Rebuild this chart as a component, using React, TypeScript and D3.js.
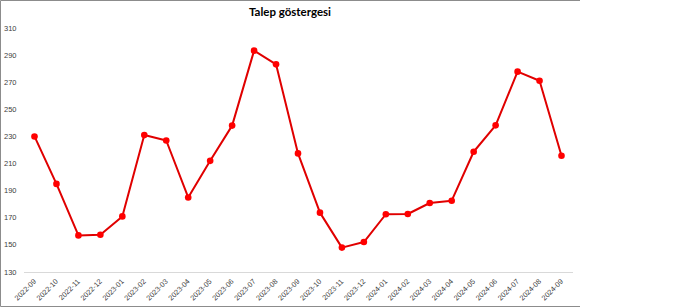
import React from "react";
import * as d3 from "d3";

const categories = [
  "2022-09","2022-10","2022-11","2022-12","2023-01","2023-02","2023-03","2023-04","2023-05","2023-06","2023-07","2023-08","2023-09",
  "2023-10","2023-11","2023-12","2024-01","2024-02","2024-03","2024-04","2024-05","2024-06","2024-07","2024-08","2024-09",
];
const values = [
  230, 195, 157, 157.5, 171, 231, 227, 185, 212, 238, 293.3, 283.2, 217.5,
  173.8, 148, 152.1, 172.6, 172.8, 180.9, 182.6, 218.7, 238.2, 277.8, 271.1, 215.8,
];
const yTicks = [130, 150, 170, 190, 210, 230, 250, 270, 290, 310];
const title = "Talep göstergesi";

export default function App() {
  const W = 700, H = 308;
  const x = d3.scalePoint<string>().domain(categories).range([34.5, 561.5]);
  const y = d3.scaleLinear().domain([130, 310]).range([272, 28]);
  const line = d3.line<number>().x((_, i) => x(categories[i])!).y((d) => y(d));
  const font = "'Liberation Sans', Arial, sans-serif";
  return (
    <div style={{ position: "fixed", left: 0, top: 0 }}>
      <svg width={W} height={H} style={{ display: "block", background: "#fff" }}>
        <rect x={0} y={0} width={W} height={H} fill="#fff" />
        <polyline points="580,0.5 0.5,0.5 0.5,306.5 580,306.5" fill="none" stroke="#8c8c8c" strokeWidth={1} />
        <text x={290} y={16} textAnchor="middle" fontFamily="Lato, 'Open Sans', sans-serif" fontWeight="bold" fontSize={11.5} fill="#000">{title}</text>
        {yTicks.map((t) => (
          <text key={t} x={4} y={y(t) + 2.5} fontFamily={font} fontSize={7.5} fill="#404040">{t}</text>
        ))}
        <line x1={24} x2={573} y1={y(130) + 0.5} y2={y(130) + 0.5} stroke="#d9d9d9" strokeWidth={1} />
        {categories.map((c) => (
          <text key={c} transform={`translate(${x(c)! + 2},${282}) rotate(-45)`} textAnchor="end" fontFamily={font} fontSize={7.3} fill="#404040">{c}</text>
        ))}
        <path d={line(values)!} fill="none" stroke="#e00000" strokeWidth={2} strokeLinejoin="round" />
        {values.map((v, i) => (
          <circle key={i} cx={x(categories[i])!} cy={y(v)} r={3.3} fill="#ff0000" />
        ))}
      </svg>
    </div>
  );
}
